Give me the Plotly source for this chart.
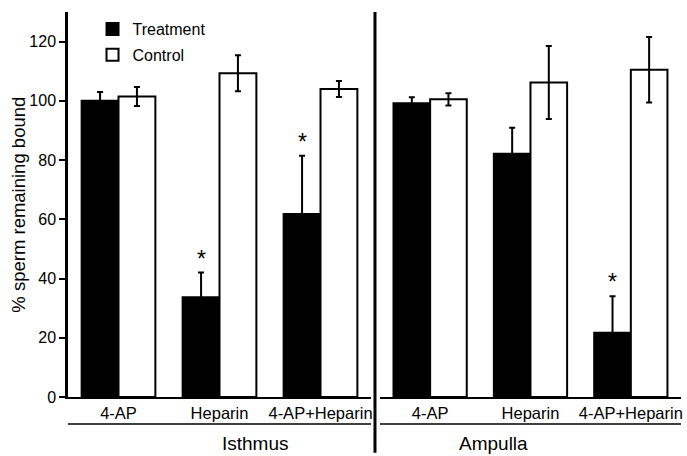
import plotly.graph_objects as go

categories = ["4-AP", "Heparin", "4-AP+Heparin"]
regions = ["Isthmus", "Ampulla"]

isthmus_treatment = [100.0, 33.7, 61.8]
isthmus_treatment_err = [3.0, 8.3, 19.7]
isthmus_control = [101.5, 109.3, 104.0]
isthmus_control_err = [3.2, 6.1, 2.7]

ampulla_treatment = [99.2, 82.1, 21.7]
ampulla_treatment_err = [2.0, 8.8, 12.3]
ampulla_control = [100.5, 106.2, 110.5]
ampulla_control_err = [2.1, 12.3, 11.1]

# significance markers: (region index, category index)
significant = [(0, 1), (0, 2), (1, 2)]

FONT = "Liberation Sans, Arial, sans-serif"

fig = go.Figure()

panels = [
    ("x", isthmus_treatment, isthmus_treatment_err, isthmus_control, isthmus_control_err, True),
    ("x2", ampulla_treatment, ampulla_treatment_err, ampulla_control, ampulla_control_err, False),
]

for xa, tv, te, cv, ce, show in panels:
    fig.add_trace(go.Bar(
        x=categories, y=tv, name="Treatment", xaxis=xa, yaxis="y",
        marker=dict(color="black", line=dict(color="black", width=2)),
        error_y=dict(type="data", array=te, visible=True, color="black", thickness=2, width=3),
        showlegend=show, legendgroup="t",
    ))
    fig.add_trace(go.Bar(
        x=categories, y=cv, name="Control", xaxis=xa, yaxis="y",
        marker=dict(color="white", line=dict(color="black", width=2)),
        error_y=dict(type="data", array=ce, visible=True, color="black", thickness=2, width=3),
        showlegend=show, legendgroup="c",
    ))

treat_vals = [isthmus_treatment, ampulla_treatment]
treat_errs = [isthmus_treatment_err, ampulla_treatment_err]
for r, c in significant:
    xa = "x" if r == 0 else "x2"
    fig.add_annotation(
        x=categories[c], y=treat_vals[r][c] + treat_errs[r][c], xref=xa, yref="y",
        text="*", showarrow=False, yanchor="bottom", xshift=-18.5, yshift=-1,
        font=dict(family=FONT, size=23, color="black"),
    )

# group labels and lines under the categories
dom = [[0, 0.4943], [0.5089, 1.0]]
for i, reg in enumerate(regions):
    fig.add_shape(type="line", xref="paper", yref="paper",
                  x0=dom[i][0], x1=dom[i][1], y0=-0.070, y1=-0.070,
                  line=dict(color="black", width=1.5))
    fig.add_annotation(x=(dom[i][0] + dom[i][1]) / 2, y=-0.121, xref="paper", yref="paper",
                       text=reg, showarrow=False, yanchor="middle",
                       font=dict(family=FONT, size=19, color="black"))

# y-axis title placed as rotated text
fig.add_annotation(x=-0.0813, y=0.5, xref="paper", yref="paper",
                   text="% sperm remaining bound", textangle=-90, showarrow=False,
                   xanchor="center", yanchor="middle",
                   font=dict(family=FONT, size=18.5, color="black"))

# divider between panels
fig.add_shape(type="line", xref="paper", yref="paper",
              x0=0.5008, x1=0.5008, y0=-0.145, y1=1.0,
              line=dict(color="black", width=3))

fig.update_layout(
    width=687, height=456,
    margin=dict(l=68, r=4, t=12, b=59),
    paper_bgcolor="white", plot_bgcolor="white",
    barmode="group", bargap=0.27, bargroupgap=0,
    font=dict(family=FONT, size=16, color="black"),
    showlegend=True,
    legend=dict(x=0.04, y=1.0, xanchor="left", yanchor="top",
                bgcolor="rgba(0,0,0,0)", font=dict(size=16, family=FONT),
                tracegroupgap=2),
    xaxis=dict(domain=dom[0], anchor="y", showline=True, linecolor="black", linewidth=2,
               ticks="", showgrid=False, zeroline=False, tickfont=dict(size=16.5)),
    xaxis2=dict(domain=dom[1], anchor="y", showline=True, linecolor="black", linewidth=2,
                ticks="", showgrid=False, zeroline=False, tickfont=dict(size=16.5)),
    yaxis=dict(range=[0, 130], tickvals=[0, 20, 40, 60, 80, 100, 120],
               showline=True, linecolor="black", linewidth=2.5,
               ticks="outside", ticklen=6, tickwidth=2, tickcolor="black",
               showgrid=False, zeroline=False, tickfont=dict(size=16)),
)

fig.write_html("out.html", config={"displayModeBar": False},
               post_script="document.body.style.margin='0';")
